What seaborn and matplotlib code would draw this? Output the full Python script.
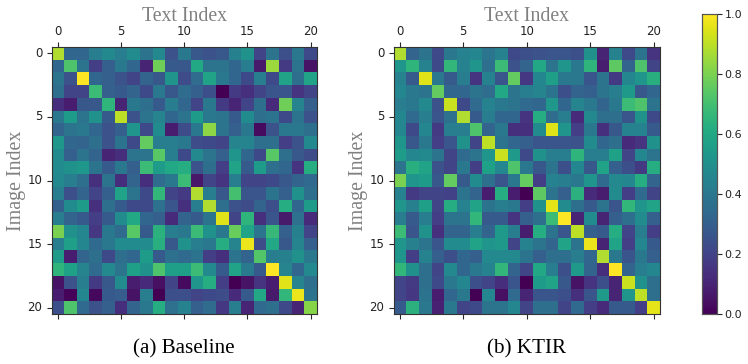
"""Similarity heatmaps, baseline vs. KTIR."""

import matplotlib

matplotlib.use("Agg")
import matplotlib.pyplot as plt
import numpy as np
import seaborn as sns

baseline = [
    [.88, .33, .33, .42, .47, .42, .48, .38, .47, .25, .40, .27, .25, .27, .43, .50, .20, .38, .24, .40, .22],
    [.33, .72, .38, .18, .30, .40, .33, .10, .78, .28, .27, .60, .38, .38, .33, .42, .07, .85, .17, .38, .05],
    [.38, .25, 1.0, .33, .30, .25, .20, .32, .27, .52, .23, .35, .58, .40, .33, .22, .42, .22, .58, .36, .58],
    [.36, .20, .20, .68, .30, .28, .32, .22, .40, .27, .35, .30, .24, .00, .17, .14, .20, .26, .26, .15, .20],
    [.13, .08, .27, .27, .65, .10, .40, .36, .28, .42, .33, .20, .40, .17, .10, .20, .36, .12, .78, .45, .30],
    [.40, .55, .38, .50, .28, .90, .25, .38, .45, .33, .38, .55, .40, .38, .28, .48, .36, .38, .22, .38, .25],
    [.32, .38, .40, .33, .25, .30, .52, .22, .48, .08, .23, .40, .83, .38, .30, .40, .03, .25, .40, .40, .36],
    [.53, .33, .32, .36, .25, .38, .22, .76, .42, .42, .40, .23, .22, .20, .45, .45, .36, .36, .18, .25, .47],
    [.48, .30, .38, .32, .10, .13, .38, .38, .74, .42, .22, .47, .38, .30, .52, .33, .22, .74, .36, .27, .23],
    [.48, .50, .53, .38, .28, .40, .30, .68, .55, .60, .62, .25, .36, .18, .58, .28, .55, .36, .33, .15, .62],
    [.47, .42, .36, .14, .38, .13, .32, .13, .35, .40, .68, .06, .20, .15, .42, .20, .20, .22, .27, .32, .34],
    [.42, .24, .32, .20, .30, .58, .38, .22, .66, .20, .17, .88, .42, .27, .70, .26, .26, .38, .30, .50, .36],
    [.30, .48, .55, .14, .36, .28, .22, .22, .37, .26, .14, .42, .88, .36, .25, .23, .32, .24, .62, .33, .55],
    [.42, .32, .28, .18, .28, .48, .60, .33, .30, .12, .32, .28, .38, .95, .20, .65, .14, .26, .07, .37, .12],
    [.80, .50, .46, .16, .40, .34, .74, .28, .64, .42, .40, .68, .50, .40, .77, .58, .38, .67, .30, .43, .20],
    [.42, .56, .46, .34, .40, .48, .48, .48, .63, .27, .50, .42, .40, .62, .45, .97, .23, .60, .27, .45, .30],
    [.55, .08, .32, .36, .22, .36, .33, .55, .28, .37, .34, .38, .18, .14, .38, .32, .73, .42, .43, .50, .40],
    [.65, .57, .45, .34, .47, .38, .56, .50, .72, .56, .56, .68, .47, .28, .58, .41, .28, 1.0, .45, .33, .47],
    [.05, .25, .42, .17, .27, .48, .08, .12, .04, .20, .03, .52, .62, .18, .00, .05, .15, .08, .95, .45, .36],
    [.08, .01, .46, .02, .28, .29, .05, .42, .00, .24, .24, .20, .22, .23, .12, .28, .60, .07, .66, .97, .38],
    [.24, .72, .34, .25, .30, .13, .32, .40, .62, .37, .44, .30, .35, .16, .42, .10, .34, .36, .22, .10, .82],
]

ktir = [
    [.88, .32, .38, .22, .40, .44, .46, .39, .44, .22, .24, .25, .26, .26, .24, .50, .10, .44, .22, .38, .15],
    [.52, .65, .44, .22, .66, .44, .52, .36, .68, .25, .32, .60, .38, .52, .40, .65, .08, .75, .32, .72, .20],
    [.44, .28, .95, .40, .28, .42, .15, .44, .26, .76, .16, .46, .56, .40, .40, .26, .38, .17, .46, .52, .63],
    [.46, .40, .38, .76, .33, .33, .38, .35, .60, .38, .42, .45, .38, .24, .32, .30, .38, .42, .54, .27, .33],
    [.42, .40, .47, .25, .92, .22, .34, .44, .40, .38, .34, .33, .53, .33, .45, .40, .32, .40, .68, .72, .38],
    [.46, .34, .42, .26, .37, .88, .28, .42, .33, .33, .15, .62, .35, .42, .12, .47, .36, .36, .26, .50, .22],
    [.46, .22, .46, .17, .42, .42, .72, .32, .40, .14, .14, .48, .95, .52, .18, .40, .14, .27, .44, .44, .28],
    [.52, .27, .40, .18, .26, .50, .20, .90, .38, .33, .30, .26, .26, .26, .25, .48, .33, .36, .12, .15, .50],
    [.55, .46, .47, .38, .20, .34, .38, .52, .92, .54, .22, .50, .42, .42, .65, .42, .42, .57, .20, .46, .38],
    [.38, .63, .58, .25, .20, .40, .18, .57, .46, .72, .40, .27, .38, .24, .46, .27, .58, .30, .24, .17, .62],
    [.80, .52, .55, .27, .76, .28, .48, .36, .26, .40, .76, .18, .44, .42, .40, .52, .34, .47, .46, .62, .32],
    [.44, .17, .20, .20, .19, .38, .32, .08, .62, .08, .00, .75, .38, .30, .64, .12, .08, .48, .18, .34, .20],
    [.52, .43, .56, .20, .62, .44, .58, .38, .42, .40, .18, .50, .96, .48, .36, .28, .38, .26, .66, .52, .58],
    [.42, .28, .42, .18, .38, .38, .66, .28, .28, .15, .30, .36, .68, 1.0, .10, .48, .10, .30, .36, .48, .30],
    [.68, .26, .50, .14, .32, .32, .42, .32, .54, .42, .08, .62, .38, .26, .90, .30, .28, .62, .20, .42, .18],
    [.52, .43, .38, .26, .48, .48, .58, .52, .54, .20, .44, .38, .32, .58, .38, .97, .10, .58, .18, .46, .28],
    [.52, .18, .44, .30, .24, .33, .30, .47, .47, .47, .38, .30, .36, .36, .42, .33, .88, .40, .26, .40, .30],
    [.66, .50, .36, .20, .47, .33, .40, .44, .66, .32, .20, .60, .42, .24, .54, .32, .13, 1.0, .32, .42, .46],
    [.20, .17, .36, .22, .40, .46, .24, .20, .13, .26, .00, .55, .58, .27, .05, .15, .24, .10, .92, .50, .36],
    [.20, .16, .38, .08, .33, .40, .00, .46, .04, .34, .10, .26, .26, .24, .14, .26, .54, .10, .52, .90, .36],
    [.28, .64, .40, .09, .40, .20, .22, .38, .38, .46, .20, .36, .36, .20, .34, .18, .12, .28, .28, .18, .96],
]

tick_labels = ["0", "5", "10", "15", "20"]
cbar_ticks = [0.0, 0.2, 0.4, 0.6, 0.8, 1.0]
captions = ["(a) Baseline", "(b) KTIR"]

W, H = 748, 364
GREY = "#808080"
SERIF = "Liberation Serif"

sns.set_style("ticks")


def _rect(left, right, top, bottom):
    return [left / W, 1 - bottom / H, (right - left) / W, (bottom - top) / H]


def _panel(fig, data, rect, caption, cax=None):
    ax = fig.add_axes(rect)
    sns.heatmap(
        np.array(data), ax=ax, cmap="viridis", vmin=0, vmax=1,
        cbar=cax is not None, cbar_ax=cax,
    )
    pos = np.arange(0, 21, 5) + 0.5
    ax.set_xticks(pos, tick_labels, rotation=0, fontsize=8.5, color="#222222")
    ax.set_yticks(pos, tick_labels, rotation=0, fontsize=8.5, color="#222222")
    ax.tick_params(axis="x", top=True, labeltop=True, bottom=True, labelbottom=False, length=3.5, width=0.8, pad=3)
    ax.tick_params(axis="y", length=3.5, width=0.8, pad=3)
    for s in ax.spines.values():
        s.set_visible(True)
        s.set_linewidth(0.8)
        s.set_color("#333333")
    ax.xaxis.set_label_position("top")
    ax.set_xlabel("Text Index", family=SERIF, fontsize=14.2, color=GREY, labelpad=3)
    ax.set_ylabel("Image Index", family=SERIF, fontsize=14.4, color=GREY, labelpad=1)
    ax.text(0.5, -0.095, caption, transform=ax.transAxes, family=SERIF, fontsize=15.2, color="black",
            ha="center", va="top")
    return ax


fig = plt.figure(figsize=(W / 100, H / 100), dpi=100)
cax = fig.add_axes(_rect(701.5, 717, 14, 314))

_panel(fig, baseline, _rect(51.5, 317, 47, 314), captions[0])
_panel(fig, ktir, _rect(393.5, 660, 47, 314), captions[1], cax=cax)

cax.set_yticks(cbar_ticks, [f"{t:.1f}" for t in cbar_ticks], fontsize=8, color="#222222")
cax.tick_params(axis="y", length=3.5, width=0.8, pad=2, right=True, left=False)
for s in cax.spines.values():
    s.set_visible(True)
    s.set_linewidth(0.8)
    s.set_color("#555555")

fig.savefig("out.png", dpi=100)
